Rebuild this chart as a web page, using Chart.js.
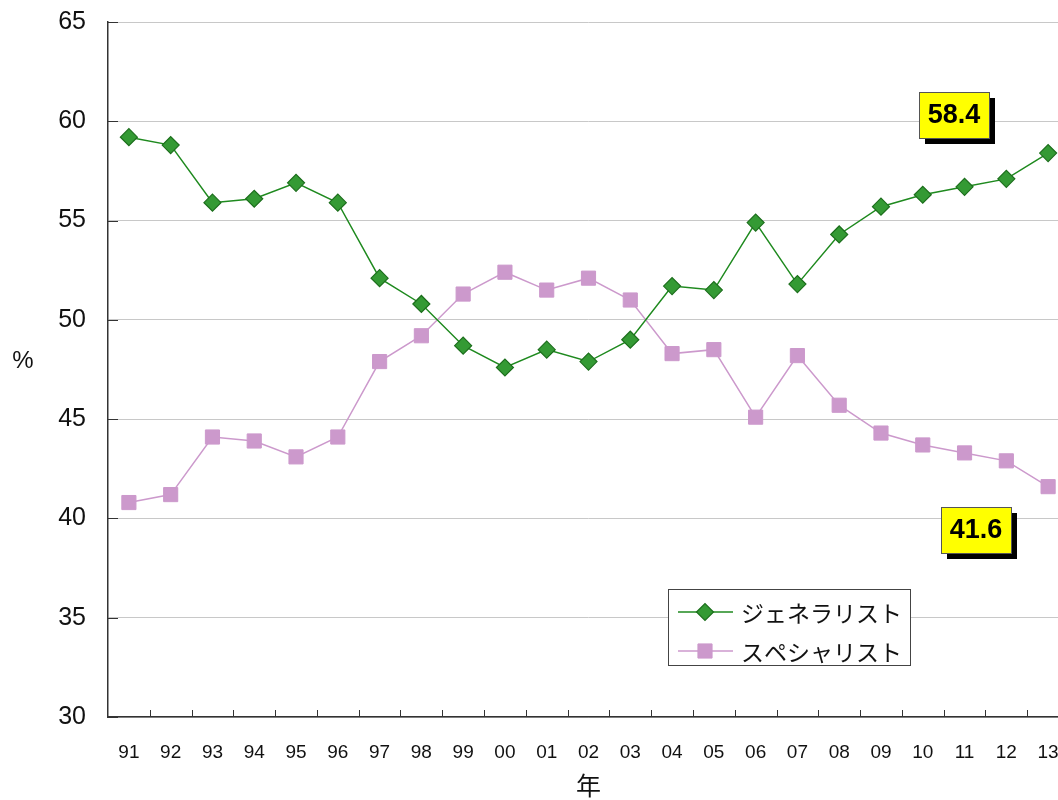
<!DOCTYPE html>
<html>
<head>
<meta charset="utf-8">
<script src="https://cdn.jsdelivr.net/npm/chart.js@4/dist/chart.umd.min.js"></script>
<style>
  html, body { margin: 0; padding: 0; background: #fff; overflow: hidden; }
  #wrap { width: 1080px; height: 800px; }
</style>
</head>
<body>
<div id="wrap"><canvas id="myChart" width="1080" height="800"></canvas></div>
<script>
var years = ["91","92","93","94","95","96","97","98","99","00","01","02","03","04","05","06","07","08","09","10","11","12","13"];
var generalist = [59.2, 58.8, 55.9, 56.1, 56.9, 55.9, 52.1, 50.8, 48.7, 47.6, 48.5, 47.9, 49.0, 51.7, 51.5, 54.9, 51.8, 54.3, 55.7, 56.3, 56.7, 57.1, 58.4];
var specialist = [40.8, 41.2, 44.1, 43.9, 43.1, 44.1, 47.9, 49.2, 51.3, 52.4, 51.5, 52.1, 51.0, 48.3, 48.5, 45.1, 48.2, 45.7, 44.3, 43.7, 43.3, 42.9, 41.6];
var seriesNames = ["ジェネラリスト", "スペシャリスト"];
var yTicks = [30, 35, 40, 45, 50, 55, 60, 65];

var latinFont = "'Liberation Sans', Arial, sans-serif";
var jpFont = "'Noto Sans CJK JP', sans-serif";

var decorPlugin = {
  id: 'decor',
  afterDraw: function(chart) {
    var ctx = chart.ctx;
    var area = chart.chartArea;
    var xs = chart.scales.x, ys = chart.scales.y;
    ctx.save();

    // short inward tick marks
    ctx.strokeStyle = '#333';
    ctx.lineWidth = 1;
    for (var i = 0; i < years.length - 1; i++) {
      var px = Math.round((xs.getPixelForValue(i) + xs.getPixelForValue(i + 1)) / 2) + 0.5;
      ctx.beginPath();
      ctx.moveTo(px, area.bottom);
      ctx.lineTo(px, area.bottom - 7);
      ctx.stroke();
    }
    yTicks.forEach(function(v) {
      var py = Math.round(ys.getPixelForValue(v)) + 0.5;
      ctx.beginPath();
      ctx.moveTo(area.left, py);
      ctx.lineTo(area.left + 10, py);
      ctx.stroke();
    });

    // "%" unit label
    ctx.fillStyle = '#111';
    ctx.font = '24px ' + latinFont;
    ctx.textAlign = 'center';
    ctx.textBaseline = 'middle';
    ctx.fillText('%', area.left - 85, (area.top + area.bottom) / 2 - 8);

    // value boxes at the last year
    var boxes = [
      { ds: 0, dx: -129, dy: -61 },
      { ds: 1, dx: -107, dy: 20 }
    ];
    boxes.forEach(function(b) {
      var meta = chart.getDatasetMeta(b.ds);
      var pt = meta.data[meta.data.length - 1];
      var vals = chart.data.datasets[b.ds].data;
      var bx = Math.round(pt.x + b.dx), by = Math.round(pt.y + b.dy);
      var w = 70, h = 46;
      ctx.fillStyle = '#000';
      ctx.fillRect(bx + 6, by + 6, w, h);
      ctx.fillStyle = '#ffff00';
      ctx.fillRect(bx, by, w, h);
      ctx.strokeStyle = '#555';
      ctx.lineWidth = 1;
      ctx.strokeRect(bx + 0.5, by + 0.5, w, h);
      ctx.fillStyle = '#000';
      ctx.font = 'bold 27px ' + latinFont;
      ctx.textAlign = 'center';
      ctx.textBaseline = 'middle';
      ctx.fillText(vals[vals.length - 1].toFixed(1), bx + w / 2, by + h / 2 + 1);
    });

    // legend box
    var lx = area.left + 560, ly = area.top + 567;
    ctx.fillStyle = '#fff';
    ctx.fillRect(lx, ly, 242, 76);
    ctx.strokeStyle = '#444';
    ctx.lineWidth = 1;
    ctx.strokeRect(lx + 0.5, ly + 0.5, 242, 76);
    chart.data.datasets.forEach(function(ds, k) {
      var cy = ly + 23 + k * 39;
      ctx.strokeStyle = ds.borderColor;
      ctx.lineWidth = ds.borderWidth;
      ctx.beginPath();
      ctx.moveTo(lx + 10, cy);
      ctx.lineTo(lx + 65, cy);
      ctx.stroke();
      ctx.fillStyle = ds.pointBackgroundColor;
      ctx.strokeStyle = ds.pointBorderColor;
      ctx.lineWidth = ds.pointBorderWidth;
      Chart.helpers.drawPoint(ctx, {
        pointStyle: ds.pointStyle, radius: ds.pointRadius, rotation: 0, borderWidth: ds.pointBorderWidth
      }, lx + 37, cy);
      ctx.fillStyle = '#111';
      ctx.font = '23px ' + jpFont;
      ctx.textAlign = 'left';
      ctx.textBaseline = 'middle';
      ctx.fillText(ds.label, lx + 73, cy + 1);
    });

    ctx.restore();
  }
};

var ctx = document.getElementById('myChart').getContext('2d');
var chart = new Chart(ctx, {
  type: 'line',
  data: {
    labels: years,
    datasets: [{
      label: seriesNames[0],
      data: generalist,
      borderColor: '#1f8a1f',
      borderWidth: 1.5,
      pointStyle: 'rectRot',
      pointRadius: 8.5,
      pointHoverRadius: 8.5,
      pointBackgroundColor: '#349a34',
      pointBorderColor: '#1d6f1d',
      pointBorderWidth: 1.2,
      tension: 0
    }, {
      label: seriesNames[1],
      data: specialist,
      borderColor: '#cc99cc',
      borderWidth: 1.5,
      pointStyle: 'rect',
      pointRadius: 10,
      pointHoverRadius: 10,
      pointBackgroundColor: '#cc99cc',
      pointBorderColor: '#cc99cc',
      pointBorderWidth: 1,
      tension: 0
    }]
  },
  options: {
    responsive: false,
    animation: false,
    devicePixelRatio: 1,
    layout: { padding: { top: 22, right: 6, left: 0, bottom: 0 } },
    plugins: {
      legend: { display: false },
      tooltip: { enabled: false }
    },
    scales: {
      x: {
        offset: true,
        grid: { display: true, drawOnChartArea: false, drawTicks: false },
        border: { display: true, color: '#333', width: 1.5 },
        ticks: { font: { size: 19, family: latinFont }, color: '#111', padding: 24, maxRotation: 0, autoSkip: false },
        title: { display: true, text: '年', font: { size: 25, family: jpFont }, color: '#111', padding: { top: 0, bottom: 0 } },
        afterFit: function(s) { s.height = 83; s.paddingLeft = 0; s.paddingRight = 0; }
      },
      y: {
        min: 30,
        max: 65,
        afterBuildTicks: function(s) { s.ticks = yTicks.map(function(v) { return { value: v }; }); },
        ticks: { font: { size: 25, family: latinFont }, color: '#111', padding: 22 },
        grid: { color: '#c8c8c8', lineWidth: 1, drawTicks: false },
        border: { display: true, color: '#333', width: 1.5 },
        afterFit: function(s) { s.width = 108; s.paddingTop = 0; s.paddingBottom = 0; }
      }
    }
  },
  plugins: [decorPlugin]
});
</script>
</body>
</html>
